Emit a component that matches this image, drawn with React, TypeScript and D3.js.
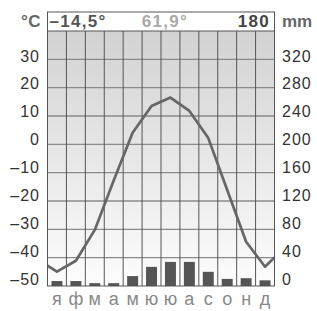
import React from "react";
import * as d3 from "d3";

const months = ["я", "ф", "м", "а", "м", "ю", "ю", "а", "с", "о", "н", "д"];
const temperature = [-44.9, -41.1, -30.2, -12.8, 4.1, 13.5, 16.5, 11.8, 2.2, -16.1, -34.4, -43.2];
const tempEdgeLeft = -42.8;
const tempEdgeRight = -39.9;
const precipitation = [7, 7, 4, 4, 14, 27, 34, 34, 20, 10, 11, 8];
const tempTicks = [30, 20, 10, 0, -10, -20, -30, -40, -50];
const precipTicks = [320, 280, 240, 200, 160, 120, 80, 40, 0];
const headerMeanTemp = "–14,5°";
const headerRange = "61,9°";
const headerPrecip = "180";

const fmt = (v: number) => (v < 0 ? "–" + Math.abs(v) : String(v));

export default function App() {
  const W = 317, H = 311;
  const left = 47.5, right = 274.5, top = 12, plotTop = 31, bottom = 286;
  const x = d3.scaleLinear().domain([0, 12]).range([left, right]);
  const y = d3.scaleLinear().domain([-50, 40]).range([bottom, plotTop]);
  const yP = d3.scaleLinear().domain([0, 360]).range([bottom, plotTop]);
  const yLab = d3.scaleLinear().domain([30, -50]).range([61.5, 284.5]);
  const band = d3.scaleBand<number>().domain(d3.range(12)).range([left, right]).paddingInner(0.42).paddingOuter(0.21);

  const linePts: [number, number][] = [
    [0, tempEdgeLeft],
    ...temperature.map((t, i) => [i + 0.5, t] as [number, number]),
    [12, tempEdgeRight],
  ];
  const line = d3.line<[number, number]>().x((d) => x(d[0])).y((d) => y(d[1]));

  const font = "'Liberation Sans', Arial, Helvetica, sans-serif";
  return (
    <svg width={W} height={H} style={{ position: "absolute", left: 0, top: 0, fontFamily: font }}>
      <defs>
        <linearGradient id="bg" x1="0" y1="0" x2="0" y2="1">
          <stop offset="0%" stopColor="#d2d2d2" />
          <stop offset="100%" stopColor="#fdfdfd" />
        </linearGradient>
        <clipPath id="clip">
          <rect x={left} y={plotTop} width={right - left} height={bottom - plotTop} />
        </clipPath>
      </defs>
      <rect x={0} y={0} width={W} height={H} fill="#fff" />
      <rect x={left} y={top} width={right - left} height={plotTop - top} fill="#fff" />
      <rect x={left} y={plotTop} width={right - left} height={bottom - plotTop} fill="url(#bg)" />
      {tempTicks.slice(0, -1).map((t) => (
        <line key={"h" + t} x1={left} x2={right} y1={y(t)} y2={y(t)} stroke="#8a8a8a" strokeWidth={1.4} />
      ))}
      {d3.range(1, 12).map((i) => (
        <line key={"v" + i} x1={x(i)} x2={x(i)} y1={plotTop} y2={bottom} stroke="#555" strokeWidth={1} />
      ))}
      {precipitation.map((p, i) => (
        <rect key={"b" + i} x={band(i)} width={band.bandwidth()} y={yP(p)} height={yP(0) - yP(p)} fill="#555" />
      ))}
      <path d={line(linePts) || ""} fill="none" stroke="#666" strokeWidth={2.7} strokeLinejoin="round" clipPath="url(#clip)" />
      <rect x={left} y={top} width={right - left} height={bottom - top} fill="none" stroke="#555" strokeWidth={1} />
      <line x1={left} x2={right} y1={plotTop} y2={plotTop} stroke="#555" strokeWidth={1} />

      <text x={41} y={27} textAnchor="end" fontSize={17} fontWeight="bold" fill="#666" letterSpacing={0.5}>°C</text>
      <text x={282} y={27} fontSize={17} fontWeight="bold" fill="#666">mm</text>
      <text x={49.5} y={27} fontSize={17} fontWeight="bold" fill="#555" letterSpacing={1.3}>{headerMeanTemp}</text>
      <text x={165} y={27} textAnchor="middle" fontSize={17} fontWeight="bold" fill="#aaa" letterSpacing={1.3}>{headerRange}</text>
      <text x={270} y={27} textAnchor="end" fontSize={17} fontWeight="bold" fill="#444" letterSpacing={1.3}>{headerPrecip}</text>

      {tempTicks.map((t) => (
        <text key={"lt" + t} x={40} y={yLab(t)} textAnchor="end" fontSize={16} fill="#333" letterSpacing={1}>{fmt(t)}</text>
      ))}
      {precipTicks.map((p, i) => (
        <text key={"rt" + p} x={282} y={yLab(tempTicks[i])} fontSize={16} fill="#333" letterSpacing={1}>{p}</text>
      ))}
      {months.map((m, i) => (
        <text key={"m" + i} x={x(i + 0.5)} y={305} textAnchor="middle" fontSize={18} fill="#888">{m}</text>
      ))}
    </svg>
  );
}
